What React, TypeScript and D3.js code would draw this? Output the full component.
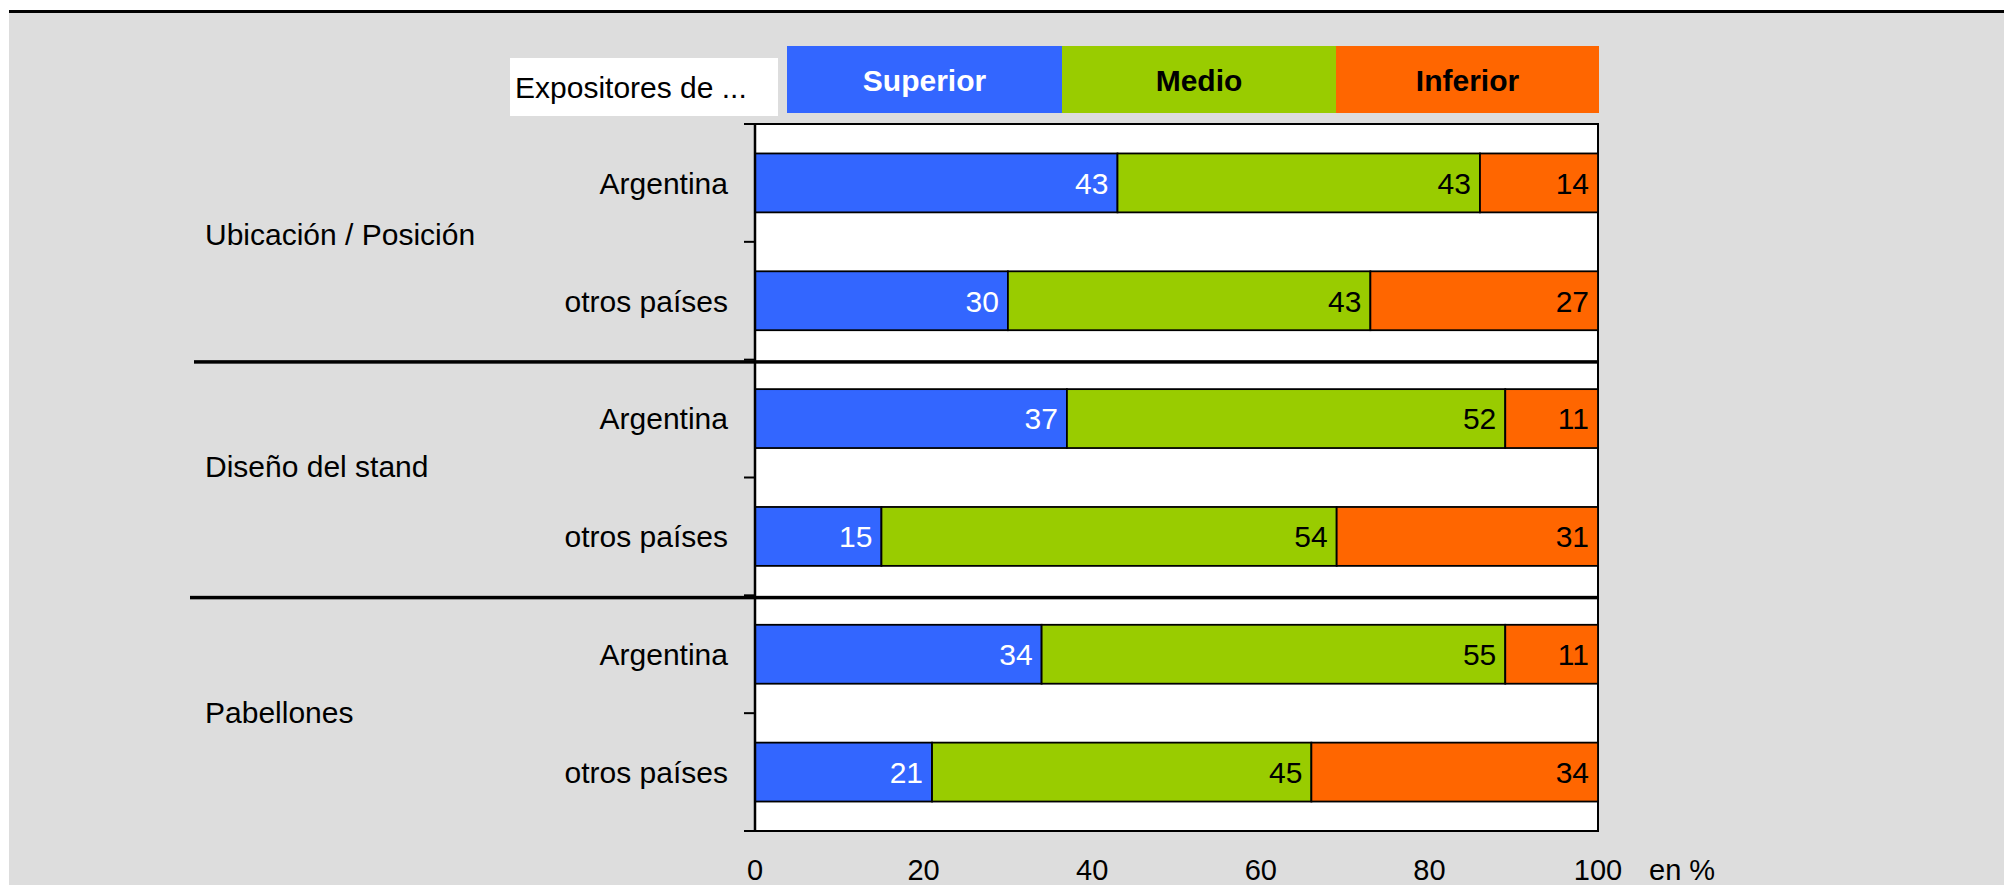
import React from "react";
import * as d3 from "d3";

const groups = ["Ubicación / Posición", "Diseño del stand", "Pabellones"];
const subcats = ["Argentina", "otros países"];
const rowKeys = ["g0-a", "g0-o", "g1-a", "g1-o", "g2-a", "g2-o"];
const superior = [43, 30, 37, 15, 34, 21];
const medio = [43, 43, 52, 54, 55, 45];
const inferior = [14, 27, 11, 31, 11, 34];
const seriesNames = ["Superior", "Medio", "Inferior"];
const seriesColors = ["#3366FF", "#99CC00", "#FF6600"];
const labelColors = ["#FFFFFF", "#000000", "#000000"];
const xTicks = [0, 20, 40, 60, 80, 100];
const legendTitle = "Expositores de ...";
const unitLabel = "en %";

const W = 2004;
const H = 885;
const FONT = "Arial, 'Liberation Sans', Helvetica, sans-serif";
const groupLabelShift = [-8, -11, -1];

export default function App() {
  const left = 755, right = 1598, top = 124, bottom = 831;
  const x = d3.scaleLinear().domain([0, 100]).range([left, right]);
  const y = d3.scaleBand<string>().domain(rowKeys).range([top, bottom]).paddingInner(0.5).paddingOuter(0.25);
  const step = y.step();
  const bw = y.bandwidth();
  const series = [superior, medio, inferior];

  const rows = rowKeys.map((k, i) => {
    const vals = series.map((s) => s[i]);
    const cum = d3.cumsum(vals);
    return { k, i, vals, starts: vals.map((v, j) => cum[j] - v), ends: Array.from(cum) };
  });

  const boundaries = d3.range(rowKeys.length + 1).map((i) => top + i * step);

  const legendBoxes = [
    { x0: 787, x1: 1062 },
    { x0: 1062, x1: 1336 },
    { x0: 1336, x1: 1599 },
  ];

  return (
    <svg width={W} height={H} style={{ position: "absolute", left: 0, top: 0 }} fontFamily={FONT}>
      <rect x={0} y={0} width={W} height={H} fill="#FFFFFF" />
      <rect x={9} y={13} width={W - 9} height={H - 13} fill="#DDDDDD" />
      <rect x={9} y={10} width={W - 9} height={3} fill="#000000" />

      {/* legend */}
      <rect x={510} y={58} width={268} height={58} fill="#FFFFFF" />
      <text x={515} y={98} fontSize={30} fill="#000">{legendTitle}</text>
      {legendBoxes.map((b, j) => (
        <g key={j}>
          <rect x={b.x0} y={46} width={b.x1 - b.x0} height={67} fill={seriesColors[j]} />
          <text x={(b.x0 + b.x1) / 2} y={91} textAnchor="middle" fontSize={30} fontWeight="bold" fill={labelColors[j]}>
            {seriesNames[j]}
          </text>
        </g>
      ))}

      {/* plot area */}
      <rect x={left} y={top} width={right - left} height={bottom - top} fill="#FFFFFF" stroke="#000" strokeWidth={2} />

      {/* bars */}
      {rows.map((r) => (
        <g key={r.k}>
          {r.vals.map((v, j) => (
            <rect
              key={j}
              x={x(r.starts[j])}
              y={y(r.k)}
              width={x(r.ends[j]) - x(r.starts[j])}
              height={bw}
              fill={seriesColors[j]}
              stroke="#000"
              strokeWidth={1.8}
            />
          ))}
          {r.vals.map((v, j) => (
            <text
              key={"t" + j}
              x={x(r.ends[j]) - 9}
              y={(y(r.k) as number) + bw / 2}
              dy="0.36em"
              textAnchor="end"
              fontSize={30}
              fill={labelColors[j]}
            >
              {v}
            </text>
          ))}
        </g>
      ))}

      {/* group separators */}
      {[2, 4].map((i, n) => (
        <rect key={i} x={n === 0 ? 194 : 190} y={boundaries[i] + 0.5} width={right + 1 - (n === 0 ? 194 : 190)} height={3.5} fill="#000" />
      ))}

      {/* y axis line and ticks */}
      <line x1={left} x2={left} y1={top} y2={bottom} stroke="#000" strokeWidth={2.5} />
      {boundaries.map((b, i) => (
        <line key={i} x1={left - 11} x2={left} y1={b} y2={b} stroke="#000" strokeWidth={2} />
      ))}

      {/* category labels */}
      {rowKeys.map((k, i) => (
        <text key={k} x={728} y={(y(k) as number) + bw / 2} dy="0.36em" textAnchor="end" fontSize={30} fill="#000">
          {subcats[i % 2]}
        </text>
      ))}

      {/* group labels */}
      {groups.map((g, gi) => (
        <text key={g} x={205} y={top + (gi * 2 + 1) * step + groupLabelShift[gi]} dy="0.36em" fontSize={30} fill="#000">
          {g}
        </text>
      ))}

      {/* x axis labels */}
      {xTicks.map((t) => (
        <text key={t} x={x(t)} y={880} textAnchor="middle" fontSize={29} fill="#000">
          {t}
        </text>
      ))}
      <text x={1649} y={880} fontSize={29} fill="#000">{unitLabel}</text>
    </svg>
  );
}
